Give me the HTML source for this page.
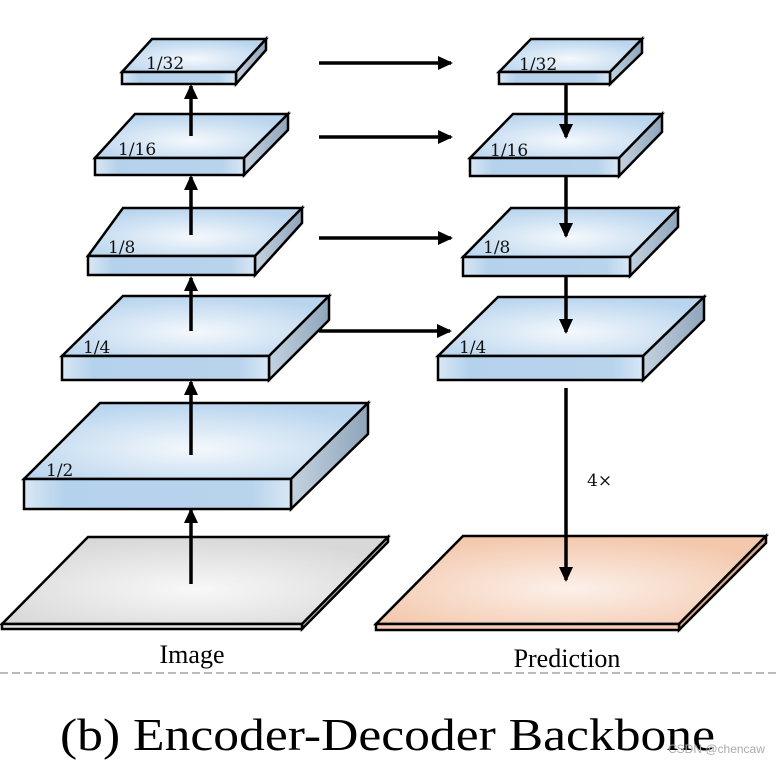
<!DOCTYPE html>
<html><head><meta charset="utf-8"><style>html,body{margin:0;padding:0;background:#fff}svg{display:block}</style></head>
<body>
<svg width="778" height="764" viewBox="0 0 778 764" xmlns="http://www.w3.org/2000/svg">
<defs>
<radialGradient id="bt" cx="0.5" cy="0.6" r="0.6"><stop offset="0" stop-color="#f4f8fc"/><stop offset="1" stop-color="#b9d5ee"/></radialGradient>
<linearGradient id="bf" x1="0" x2="1"><stop offset="0" stop-color="#d8e7f5"/><stop offset="0.15" stop-color="#b5d2ec"/><stop offset="0.85" stop-color="#b8d3ec"/><stop offset="1" stop-color="#d8e7f5"/></linearGradient>
<linearGradient id="bs" x1="0" x2="1"><stop offset="0" stop-color="#c4d2df"/><stop offset="1" stop-color="#8ea5ba"/></linearGradient>
<radialGradient id="gt" cx="0.5" cy="0.6" r="0.6"><stop offset="0" stop-color="#f8f8f8"/><stop offset="1" stop-color="#d8d8d8"/></radialGradient>
<radialGradient id="ot" cx="0.5" cy="0.6" r="0.6"><stop offset="0" stop-color="#fcf0ea"/><stop offset="1" stop-color="#f3c8ac"/></radialGradient>
<marker id="ah" markerWidth="15" markerHeight="14" refX="13" refY="7" orient="auto" markerUnits="userSpaceOnUse"><path d="M0,0 L15,7 L0,14 z" fill="#000"/></marker>
</defs>
<g stroke="#000" stroke-width="2.5" stroke-linejoin="miter">
<polygon points="122,72 152,39 266,39 236,72" fill="url(#bt)"/><polygon points="236,72 266,39 266,50 236,84" fill="url(#bs)"/><rect x="122" y="72" width="114" height="12" fill="url(#bf)"/>
<polygon points="95,158 135,114 288,114 244,158" fill="url(#bt)"/><polygon points="244,158 288,114 288,130 244,175" fill="url(#bs)"/><rect x="95" y="158" width="149" height="17" fill="url(#bf)"/>
<polygon points="88,256 123,208 302,208 255,256" fill="url(#bt)"/><polygon points="255,256 302,208 302,223 255,275" fill="url(#bs)"/><rect x="88" y="256" width="167" height="19" fill="url(#bf)"/>
<polygon points="62,356 123,296 329,296 269,356" fill="url(#bt)"/><polygon points="269,356 329,296 329,320 269,380" fill="url(#bs)"/><rect x="62" y="356" width="207" height="24" fill="url(#bf)"/>
<polygon points="24,479 100,403 368,403 291,479" fill="url(#bt)"/><polygon points="291,479 368,403 368,434 291,509" fill="url(#bs)"/><rect x="24" y="479" width="267" height="30" fill="url(#bf)"/>
<polygon points="2,624 88,537 388,537 302,624" fill="url(#gt)"/><polygon points="302,624 388,537 388,542 302,629" fill="#bbb"/><rect x="2" y="624" width="300" height="5" fill="#e6e6e6"/>
<polygon points="499,72 531,39 642,39 610,72" fill="url(#bt)"/><polygon points="610,72 642,39 642,53 610,84" fill="url(#bs)"/><rect x="499" y="72" width="111" height="12" fill="url(#bf)"/>
<polygon points="470,158 513,114 662,114 619,158" fill="url(#bt)"/><polygon points="619,158 662,114 662,132 619,176" fill="url(#bs)"/><rect x="470" y="158" width="149" height="18" fill="url(#bf)"/>
<polygon points="463,257 511,208 678,208 630,257" fill="url(#bt)"/><polygon points="630,257 678,208 678,227 630,276" fill="url(#bs)"/><rect x="463" y="257" width="167" height="19" fill="url(#bf)"/>
<polygon points="438,356 498,297 704,297 643,356" fill="url(#bt)"/><polygon points="643,356 704,297 704,320 643,380" fill="url(#bs)"/><rect x="438" y="356" width="205" height="24" fill="url(#bf)"/>
<polygon points="376,624 463,536 766,536 679,624" fill="url(#ot)"/><polygon points="679,624 766,536 766,543 679,630" fill="#d9a88a"/><rect x="376" y="624" width="303" height="6" fill="#f5cdb3"/>
</g>
<g stroke="#000" stroke-width="3.5" marker-end="url(#ah)">
<line x1="191" y1="584" x2="191" y2="510"/>
<line x1="191" y1="455" x2="191" y2="382"/>
<line x1="191" y1="331" x2="191" y2="278"/>
<line x1="191" y1="235" x2="191" y2="177"/>
<line x1="191" y1="136" x2="191" y2="86"/>
<line x1="319" y1="63" x2="451" y2="63"/>
<line x1="319" y1="137" x2="451" y2="137"/>
<line x1="319" y1="238" x2="451" y2="238"/>
<line x1="319" y1="331" x2="450" y2="331"/>
<line x1="566" y1="84" x2="566" y2="137"/>
<line x1="566" y1="176" x2="566" y2="236"/>
<line x1="566" y1="276" x2="566" y2="332"/>
<line x1="566" y1="388" x2="566" y2="580"/>
</g>
<g font-family="'DejaVu Serif','Liberation Serif',serif" font-size="17" fill="#111">
<text x="146" y="69">1/32</text><text x="118" y="155">1/16</text><text x="108" y="253">1/8</text><text x="83" y="353">1/4</text><text x="46" y="476">1/2</text>
<text x="519" y="70">1/32</text><text x="490" y="156">1/16</text><text x="483" y="253">1/8</text><text x="459" y="353">1/4</text>
<text x="587" y="486">4×</text>
</g>
<g font-family="'Liberation Serif',serif" fill="#000">
<text x="192" y="663" font-size="26" text-anchor="middle">Image</text>
<text x="567" y="667" font-size="26" text-anchor="middle">Prediction</text>
<text x="60" y="750" font-size="46" textLength="655" lengthAdjust="spacingAndGlyphs">(b) Encoder-Decoder Backbone</text>
</g>
<line x1="0" y1="673" x2="778" y2="673" stroke="#bbb" stroke-width="2" stroke-dasharray="8,4"/>
<text x="668" y="753" font-family="'Liberation Sans',sans-serif" font-size="12" fill="#aaa">CSDN @chencaw</text>
</svg>
</body></html>
